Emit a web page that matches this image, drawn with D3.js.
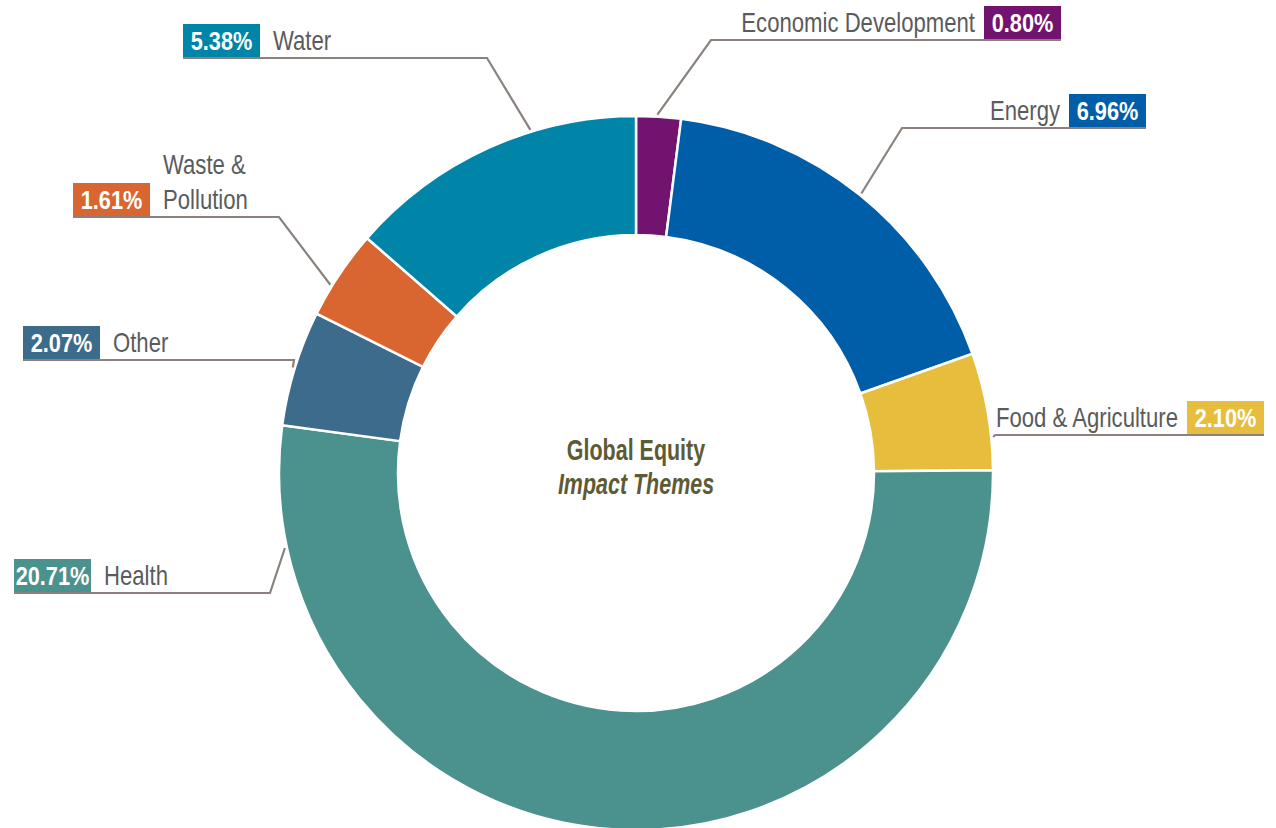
<!DOCTYPE html>
<html>
<head>
<meta charset="utf-8">
<script src="https://cdn.jsdelivr.net/npm/d3@7"></script>
<style>
  html, body { margin: 0; padding: 0; background: #fff; }
  svg { display: block; }
  .name { font-family: "Liberation Sans", Arial, sans-serif; font-size: 27px; fill: #5b5b5b; }
  .pct { font-family: "Liberation Sans", Arial, sans-serif; font-size: 26.5px; font-weight: bold; fill: #fff; }
  .center { font-family: "Liberation Sans", Arial, sans-serif; font-size: 29px; font-weight: bold; fill: #5e5a34; }
</style>
</head>
<body>
<div id="chart"></div>
<script>
// impact themes, clockwise from 12 o'clock
const themes = ["Economic Development", "Energy", "Food & Agriculture", "Health", "Other", "Waste & Pollution", "Water"]
const weights = [0.80, 6.96, 2.10, 20.71, 2.07, 1.61, 5.38]
const colors = ["#72146f", "#005ea9", "#e7bd3d", "#4b918d", "#3d6b8c", "#d96631", "#0085a9"]

// label placement (annotation layout, not data)
// side: where the % box sits relative to the name; edge: outer x of the box
// lineY: underline y; elbowX: where the leader leaves the underline; t: position inside the slice
const labelLayout = [
  {side: "right", edge: 1061, lineY: 40, elbowX: 711, t: 0.47},
  {side: "right", edge: 1146, lineY: 128, elbowX: 902, t: 0.5},
  {side: "right", edge: 1264, lineY: 435, elbowX: 995, t: 0.72},
  {side: "left", edge: 14, lineY: 593, elbowX: 270, t: 0.895},
  {side: "left", edge: 23, lineY: 360, elbowX: 294, t: 0.5},
  {side: "left", edge: 73, lineY: 217, elbowX: 279, t: 0.35},
  {side: "left", edge: 183, lineY: 58, elbowX: 487, t: 0.65}
]

const W = 1276, H = 828
const cx = 636, cy = 473
const outerR = 357, innerR = 238
const boxW = 77, boxH = 33
const squeeze = 0.82   // condensed look from a regular face

const svg = d3.select("#chart").append("svg")
  .attr("width", W)
  .attr("height", H)

const pie = d3.pie().sort(null).value(d => d.value)
const arcs = pie(themes.map((t, i) => ({theme: t, value: weights[i], color: colors[i]})))

const arc = d3.arc().innerRadius(innerR).outerRadius(outerR)

const g = svg.append("g").attr("transform", `translate(${cx},${cy})`)

g.selectAll("path.slice")
  .data(arcs)
  .join("path")
  .attr("class", "slice")
  .attr("d", arc)
  .attr("fill", d => d.data.color)
  .attr("stroke", "#fff")
  .attr("stroke-width", 2.5)

function narrowText(parent, cls, x, y, anchor, txt, sx) {
  return parent.append("text").attr("class", cls)
    .attr("transform", `translate(${x},${y}) scale(${sx || squeeze},1)`)
    .attr("text-anchor", anchor)
    .text(txt)
}

// center title
narrowText(svg, "center", cx, cy - 13, "middle", "Global Equity", 0.74)
narrowText(svg, "center", cx, cy + 21, "middle", "Impact Themes", 0.74)
  .style("font-style", "italic")

// labels with leaders
arcs.forEach((d, i) => {
  const L = labelLayout[i]
  const a = d.startAngle + L.t * (d.endAngle - d.startAngle)
  const r = outerR + 2
  const px = cx + r * Math.sin(a)
  const py = cy - r * Math.cos(a)

  const lab = svg.append("g").attr("class", "label")

  lab.append("path")
    .attr("d", d3.line()([[L.edge, L.lineY], [L.elbowX, L.lineY], [px, py]]))
    .attr("fill", "none")
    .attr("stroke", "#8b827e")
    .attr("stroke-width", 2.2)

  const boxX = L.side === "left" ? L.edge : L.edge - boxW
  lab.append("rect")
    .attr("x", boxX)
    .attr("y", L.lineY - boxH - 1)
    .attr("width", boxW)
    .attr("height", boxH)
    .attr("fill", d.data.color)

  narrowText(lab, "pct", boxX + boxW / 2, L.lineY - 8, "middle", d.data.value.toFixed(2) + "%")

  const words = d.data.theme === "Waste & Pollution" ? ["Waste &", "Pollution"] : [d.data.theme]
  const nameX = L.side === "left" ? boxX + boxW + 13 : boxX - 9
  words.forEach((w, k) => {
    narrowText(lab, "name", nameX, L.lineY - 8 - (words.length - 1 - k) * 35,
      L.side === "left" ? "start" : "end", w)
  })
})
</script>
</body>
</html>
